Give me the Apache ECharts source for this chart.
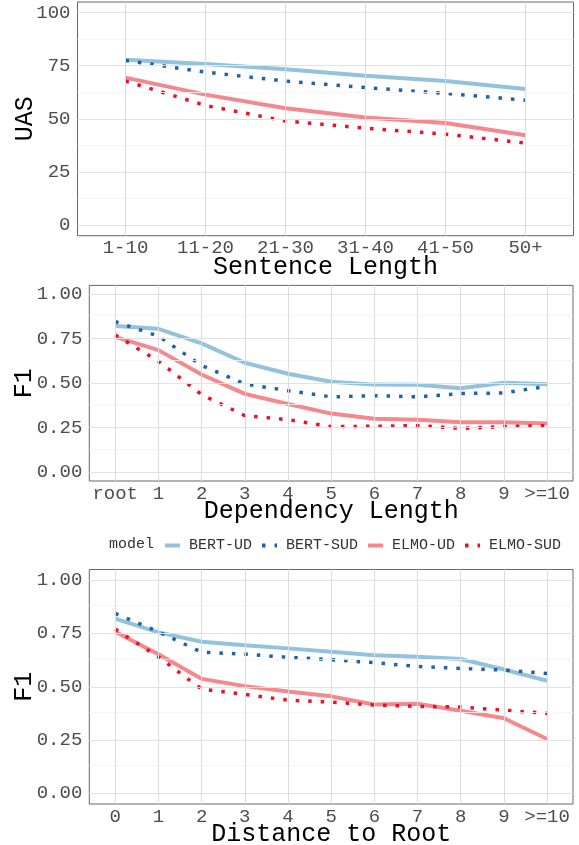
<!DOCTYPE html>
<html>
<head>
<meta charset="utf-8">
<script src="https://cdn.jsdelivr.net/npm/echarts@6.0.0/dist/echarts.min.js"></script>
<style>
  html, body { margin: 0; padding: 0; background: #fff; }
  #chart { width: 579px; height: 845px; }
</style>
</head>
<body>
<div id="chart"></div>
<script>
// categories
const sentCats = ['1-10', '11-20', '21-30', '31-40', '41-50', '50+'];
const depCats = ['root', '1', '2', '3', '4', '5', '6', '7', '8', '9', '>=10'];
const distCats = ['0', '1', '2', '3', '4', '5', '6', '7', '8', '9', '>=10'];

// tick values
const uasTicks = [0, 25, 50, 75, 100];
const uasMinor = [12.5, 37.5, 62.5, 87.5];
const f1Ticks = [0, 0.25, 0.5, 0.75, 1];
const f1Minor = [0.125, 0.375, 0.625, 0.875];

// panel 1: UAS by sentence length
const sentBertUD = [77.8, 75.8, 73.3, 70.3, 67.8, 64.1];
const sentBertSUD = [77.5, 72.0, 67.8, 64.7, 62.0, 58.8];
const sentElmoUD = [69.4, 61.4, 55.0, 50.6, 48.0, 42.3];
const sentElmoSUD = [67.8, 56.3, 49.0, 45.6, 42.8, 38.6];

// panel 2: F1 by dependency length
const depBertUD = [0.821, 0.806, 0.724, 0.615, 0.553, 0.508, 0.492, 0.491, 0.472, 0.502, 0.494];
const depBertSUD = [0.846, 0.765, 0.600, 0.496, 0.458, 0.423, 0.430, 0.423, 0.442, 0.445, 0.483];
const depElmoUD = [0.761, 0.686, 0.549, 0.440, 0.383, 0.329, 0.300, 0.295, 0.280, 0.280, 0.274];
const depElmoSUD = [0.771, 0.624, 0.436, 0.318, 0.295, 0.256, 0.258, 0.261, 0.246, 0.256, 0.261];

// panel 3: F1 by distance to root
const distBertUD = [0.820, 0.755, 0.711, 0.695, 0.680, 0.664, 0.648, 0.641, 0.630, 0.581, 0.528];
const distBertSUD = [0.844, 0.758, 0.662, 0.653, 0.638, 0.627, 0.613, 0.595, 0.586, 0.578, 0.562];
const distElmoUD = [0.758, 0.652, 0.537, 0.503, 0.478, 0.455, 0.417, 0.420, 0.387, 0.352, 0.255];
const distElmoSUD = [0.770, 0.640, 0.489, 0.464, 0.437, 0.428, 0.414, 0.408, 0.405, 0.390, 0.375];

const models = ['BERT-UD', 'BERT-SUD', 'ELMO-UD', 'ELMO-SUD'];
const colors = ['#92C2DD', '#1F62AC', '#F4888D', '#EE0F25'];
const dotted = [false, true, false, true];

const font = 'Liberation Mono';

let grids = [
  { left: 77.5, top: 2, width: 496, height: 233.7 },
  { left: 89.3, top: 285.4, width: 483.7, height: 195.6 },
  { left: 89.3, top: 569.5, width: 483.7, height: 234.5 }
];
grids = grids.map(g => Object.assign(g, {
  show: true, borderColor: '#666', borderWidth: 1, backgroundColor: '#fff',
  containLabel: false, outerBoundsMode: 'none'
}));

const panels = [
  { cats: sentCats, name: 'Sentence Length', yName: 'UAS', ticks: uasTicks, minor: uasMinor,
    yMin: -5, yMax: 105, fmt: v => String(v), nameGap: 19, yGap: 40,
    data: [sentBertUD, sentBertSUD, sentElmoUD, sentElmoSUD] },
  { cats: depCats, name: 'Dependency Length', yName: 'F1', ticks: f1Ticks, minor: f1Minor,
    yMin: -0.05, yMax: 1.05, fmt: v => v.toFixed(2), nameGap: 18, yGap: 52,
    data: [depBertUD, depBertSUD, depElmoUD, depElmoSUD] },
  { cats: distCats, name: 'Distance to Root', yName: 'F1', ticks: f1Ticks, minor: f1Minor,
    yMin: -0.05, yMax: 1.05, fmt: v => v.toFixed(2), nameGap: 18, yGap: 52,
    data: [distBertUD, distBertSUD, distElmoUD, distElmoSUD] }
];

let xAxis = [], yAxis = [], series = [];
panels.forEach((p, gi) => {
  const idx = p.cats.map((c, i) => i);
  xAxis.push({
    type: 'value', gridIndex: gi, min: -0.6, max: p.cats.length - 0.4,
    name: p.name, nameLocation: 'middle', nameGap: p.nameGap, nameMoveOverlap: false,
    nameTextStyle: { fontFamily: font, fontSize: 25, color: '#000' },
    axisLine: { show: false },
    splitLine: { show: false },
    axisTick: { show: true, length: 4, lineStyle: { color: '#999' }, customValues: idx },
    axisLabel: {
      customValues: idx, margin: 3, fontFamily: font, fontSize: 19, color: '#4D4D4D',
      formatter: v => p.cats[Math.round(v)]
    }
  });
  yAxis.push({
    type: 'value', gridIndex: gi, min: p.yMin, max: p.yMax,
    name: p.yName, nameLocation: 'middle', nameGap: p.yGap, nameMoveOverlap: false,
    nameTextStyle: { fontFamily: font, fontSize: 25, color: '#000' },
    axisLine: { show: false },
    splitLine: { show: false },
    axisTick: { show: true, length: 4, lineStyle: { color: '#999' }, customValues: p.ticks },
    axisLabel: {
      customValues: p.ticks, margin: 7, fontFamily: font, fontSize: 19, color: '#4D4D4D',
      formatter: v => p.fmt(v)
    }
  });
  // panel grid lines
  series.push({
    type: 'line', xAxisIndex: gi, yAxisIndex: gi, data: [], z: 1, silent: true,
    markLine: {
      silent: true, symbol: 'none', animation: false, label: { show: false },
      data: [].concat(
        p.minor.map(v => ({ yAxis: v, lineStyle: { color: '#F2F2F2', width: 0.8, type: 'solid' } })),
        p.ticks.map(v => ({ yAxis: v, lineStyle: { color: '#E2E2E2', width: 1.2, type: 'solid' } })),
        idx.map(v => ({ xAxis: v, lineStyle: { color: '#DCDCDC', width: 1, type: 'solid' } }))
      )
    }
  });
  p.data.forEach((vals, si) => {
    series.push({
      type: 'line', name: models[si], xAxisIndex: gi, yAxisIndex: gi, z: 3,
      data: vals.map((v, i) => [i, v]),
      symbol: 'none',
      itemStyle: { color: colors[si] },
      lineStyle: {
        color: colors[si], width: dotted[si] ? 3.5 : 4,
        type: dotted[si] ? [3.5, 9] : 'solid', cap: 'butt'
      }
    });
  });
});

let myChart = echarts.init(document.getElementById('chart'));
myChart.setOption({
  animation: false,
  backgroundColor: '#fff',
  grid: grids,
  xAxis: xAxis,
  yAxis: yAxis,
  legend: {
    data: models, left: 163, top: 538, padding: 0,
    itemWidth: 15, itemHeight: 12, itemGap: 8,
    itemStyle: { opacity: 0 },
    lineStyle: { width: 4 },
    textStyle: { fontFamily: font, fontSize: 15, color: '#333', padding: [0, 0, 0, 4] }
  },
  graphic: [{
    type: 'text', left: 109, top: 537,
    style: { text: 'model', font: '15px "Liberation Mono"', fill: '#333' }
  }],
  series: series
});
</script>
</body>
</html>
